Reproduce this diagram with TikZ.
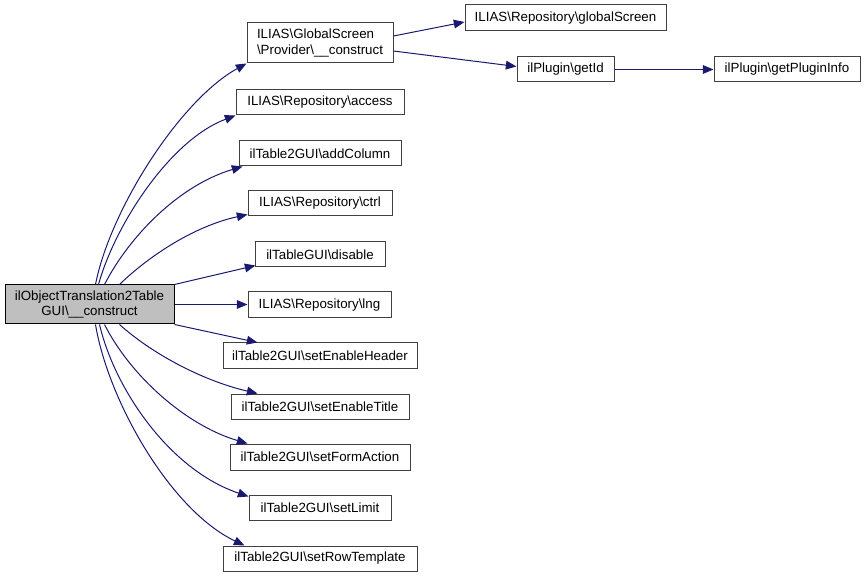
\documentclass[tikz,border=0pt]{standalone}
\usepackage{fontspec}
\setmainfont{Liberation Sans}
\usetikzlibrary{arrows.meta,calc}
\definecolor{edgec}{HTML}{191970}
\definecolor{boxc}{HTML}{404040}
\definecolor{mainfill}{HTML}{BFBFBF}
\tikzset{
  box/.style={draw=boxc, line width=0.75pt, inner sep=0pt, anchor=center,
    font=\fontsize{10}{11.3}\selectfont},
  mainbox/.style={box, draw=black, fill=mainfill, align=center},
  edge/.style={draw=edgec, line width=0.75pt, -{Triangle[length=8pt,width=6.5pt]}, fill=none},
}
\newcommand\bx[7][]{\node[box,#1, minimum width={(#5-#3)*0.75pt}, minimum height={(#6-#4)*0.75pt}] (#2) at ({(#3+#5)/2},{(#4+#6)/2}) {#7};}
\begin{document}
\begin{tikzpicture}[x=0.75pt,y=-0.75pt]
\useasboundingbox (0,0) rectangle (864,577);
\bx[mainbox]{main}{5}{285}{174}{324}{ilObjectTranslation2Table\\GUI\textbackslash\_\_construct}
\bx[align=left]{prov}{247}{23}{393}{63}{ILIAS\textbackslash GlobalScreen\\\textbackslash Provider\textbackslash\_\_construct}
\bx{gs}{465}{5}{666}{31}{ILIAS\textbackslash Repository\textbackslash globalScreen}
\bx{gid}{517}{57}{614}{82}{ilPlugin\textbackslash getId}
\bx{gpi}{714}{57}{860}{82}{ilPlugin\textbackslash getPluginInfo}
\bx{acc}{236}{90}{404}{115}{ILIAS\textbackslash Repository\textbackslash access}
\bx{add}{239}{141}{401}{166}{ilTable2GUI\textbackslash addColumn}
\bx{ctrl}{248}{191}{392}{216}{ILIAS\textbackslash Repository\textbackslash ctrl}
\bx{dis}{255}{242}{385}{267}{ilTableGUI\textbackslash disable}
\bx{lng}{248}{292}{391}{318}{ILIAS\textbackslash Repository\textbackslash lng}
\bx{seh}{223}{343}{417}{368}{ilTable2GUI\textbackslash setEnableHeader}
\bx{set}{231}{394}{409}{419}{ilTable2GUI\textbackslash setEnableTitle}
\bx{sfa}{230}{444}{410}{470}{ilTable2GUI\textbackslash setFormAction}
\bx{sl}{249}{495}{391}{520}{ilTable2GUI\textbackslash setLimit}
\bx{srt}{223}{546}{417}{571}{ilTable2GUI\textbackslash setRowTemplate}

% upper edges
\draw[edge] ($(main.north west)+(91,0)$) .. controls (110,210) and (180,100) .. (prov.south west);
\draw[edge] ($(main.north west)+(94,0)$) .. controls (115,225) and (170,140) .. (acc.south west);
\draw[edge] ($(main.north west)+(100,0)$) .. controls (130,235) and (180,185) .. ($(add.south west)+(4,0)$);
\draw[edge] ($(main.north west)+(115,0)$) .. controls (150,255) and (195,226) .. ($(ctrl.south west)+(0,-2)$);
\draw[edge] (main.north east) -- ($(dis.south west)+(1,-2)$);
\draw[edge] (main.east) -- (main.east -| lng.west);
% lower edges
\draw[edge] (main.south east) -- ($(seh.north west)+(35,0)$);
\draw[edge] ($(main.south west)+(115,0)$) .. controls (150,352) and (200,380) .. ($(set.north west)+(27,0)$);
\draw[edge] ($(main.south west)+(100,0)$) .. controls (130,375) and (185,425) .. ($(sfa.north west)+(18,0)$);
\draw[edge] ($(main.south west)+(95,0)$) .. controls (115,390) and (170,470) .. ($(sl.north west)+(0,2)$);
\draw[edge] ($(main.south west)+(91,0)$) .. controls (108,400) and (170,510) .. ($(srt.north west)+(22,0)$);
% right edges
\draw[edge] ($(prov.east)+(0,-7)$) -- ($(gs.west)+(0,4)$);
\draw[edge] ($(prov.east)+(0,8)$) -- ($(gid.west)+(0,-3)$);
\draw[edge] (gid.east) -- (gpi.west);
\end{tikzpicture}
\end{document}
